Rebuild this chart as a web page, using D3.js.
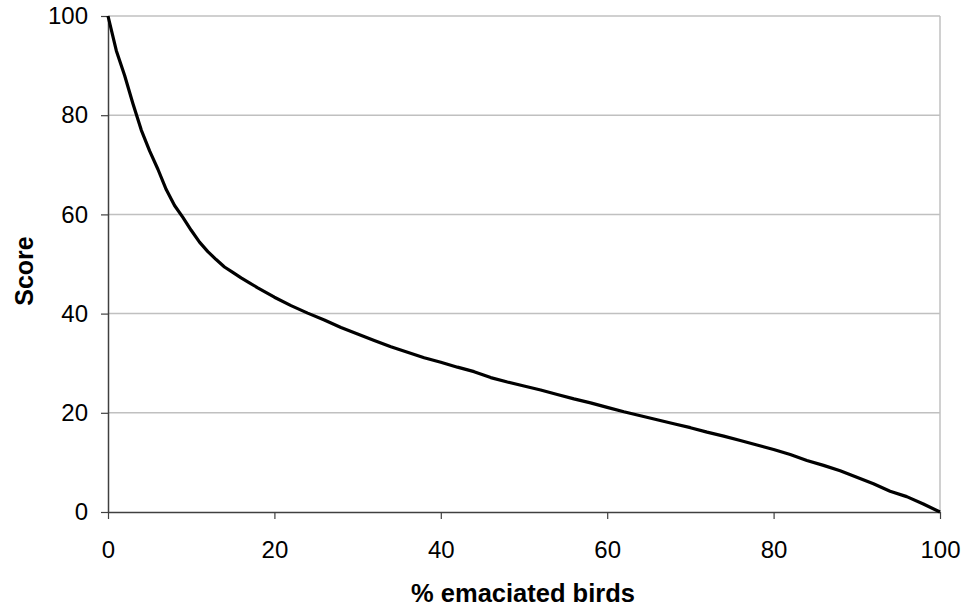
<!DOCTYPE html>
<html>
<head>
<meta charset="utf-8">
<script src="https://cdn.jsdelivr.net/npm/d3@7/dist/d3.min.js"></script>
<style>
  body { margin: 0; background: #fff; }
  svg { display: block; font-family: "Liberation Sans", Arial, sans-serif; }
</style>
</head>
<body>
<svg width="966" height="608"></svg>
<script>
const pctBirds = [0, 1, 2, 3, 4, 5, 6, 7, 8, 9, 10, 11, 12, 13, 14, 15, 16, 17, 18,
  20, 22, 24, 26, 28, 30, 32, 34, 36, 38, 40, 42, 44, 46, 48, 50, 52, 54, 56, 58,
  60, 62, 64, 66, 68, 70, 72, 74, 76, 78, 80, 82, 84, 86, 88, 90, 92, 94, 96, 98, 100];
const score = [100, 93, 88, 82.3, 77, 72.8, 69.1, 65, 61.8, 59.4, 56.8, 54.4, 52.5, 50.9, 49.4, 48.3, 47.2, 46.2, 45.2,
  43.3, 41.6, 40.1, 38.7, 37.2, 35.9, 34.6, 33.3, 32.2, 31.1, 30.2, 29.2, 28.3, 27.1, 26.2, 25.4, 24.6, 23.7, 22.8, 22.0,
  21.1, 20.2, 19.4, 18.6, 17.8, 17.0, 16.1, 15.3, 14.4, 13.5, 12.6, 11.6, 10.4, 9.4, 8.3, 7.0, 5.7, 4.2, 3.1, 1.6, 0];
const xTicks = [0, 20, 40, 60, 80, 100];
const yTicks = [0, 20, 40, 60, 80, 100];

const svg = d3.select("svg");
const margin = { top: 16, right: 26, bottom: 96, left: 108 };
const width = +svg.attr("width");
const height = +svg.attr("height");
const innerWidth = width - margin.left - margin.right;
const innerHeight = height - margin.top - margin.bottom;

const x = d3.scaleLinear().domain([0, 100]).range([0, innerWidth]);
const y = d3.scaleLinear().domain([0, 100]).range([innerHeight, 0]);

const g = svg.append("g")
  .attr("transform", `translate(${margin.left},${margin.top})`);

// gridlines
g.append("g")
  .selectAll("line")
  .data(yTicks.filter(d => d > 0))
  .enter()
  .append("line")
  .attr("x1", 0)
  .attr("x2", innerWidth)
  .attr("y1", d => y(d))
  .attr("y2", d => y(d))
  .attr("stroke", "#c0c0c0")
  .attr("stroke-width", 1.5);

// right border
g.append("line")
  .attr("x1", innerWidth).attr("x2", innerWidth)
  .attr("y1", 0).attr("y2", innerHeight)
  .attr("stroke", "#c0c0c0")
  .attr("stroke-width", 1.5);

const yAxis = g.append("g")
  .call(d3.axisLeft(y).tickValues(yTicks).tickSize(7).tickPadding(13).tickSizeOuter(0));

const xAxis = g.append("g")
  .attr("transform", `translate(0,${innerHeight})`)
  .call(d3.axisBottom(x).tickValues(xTicks).tickSize(7).tickPadding(22).tickSizeOuter(0));

[yAxis, xAxis].forEach(a => {
  a.attr("font-size", 24).attr("font-family", "Liberation Sans, Arial, sans-serif");
  a.select(".domain").attr("stroke", "#404040").attr("stroke-width", 1.5);
  a.selectAll(".tick line").attr("stroke", "#404040").attr("stroke-width", 1.2);
  a.selectAll(".tick text").attr("fill", "#000");
});

const line = d3.line()
  .x((d, i) => x(pctBirds[i]))
  .y(d => y(d));

g.append("path")
  .datum(score)
  .attr("fill", "none")
  .attr("stroke", "#000")
  .attr("stroke-width", 3.2)
  .attr("stroke-linejoin", "round")
  .attr("d", line);

// x-y label
svg.append("text")
  .attr("x", 523)
  .attr("y", 602)
  .attr("text-anchor", "middle")
  .style("font-size", "25.5px")
  .style("font-weight", "bold")
  .text("% emaciated birds");

svg.append("text")
  .attr("transform", "rotate(-90)")
  .attr("x", -271)
  .attr("y", 33)
  .attr("text-anchor", "middle")
  .style("font-size", "25px")
  .style("font-weight", "bold")
  .text("Score");
</script>
</body>
</html>
